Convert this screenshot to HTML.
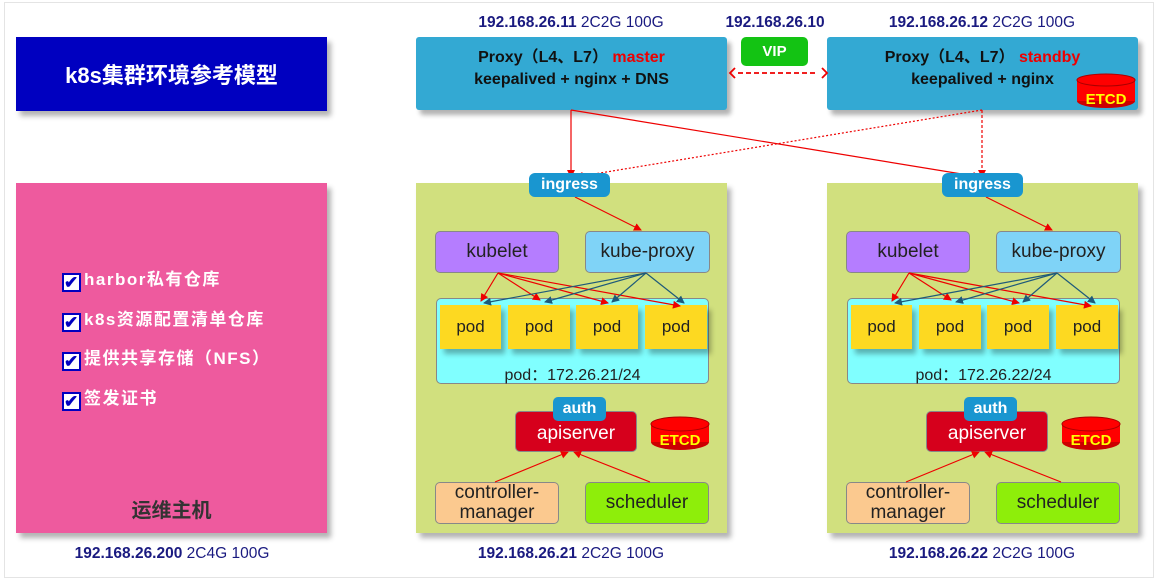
<!DOCTYPE html>
<html><head><meta charset="utf-8"><style>
body{margin:0;width:1158px;height:583px;background:#fff;position:relative;overflow:hidden;font-family:"Liberation Sans","Noto Sans CJK SC",sans-serif}
.a{position:absolute;box-sizing:border-box}
.frame{left:4px;top:2px;width:1150px;height:576px;border:1px solid #e4e4e4}
.sh{box-shadow:4px 5px 5px rgba(0,0,0,.3)}
.c{display:flex;align-items:center;justify-content:center;text-align:center}
.ip{font-size:15.5px;color:#1a1a80;text-align:center;width:320px}
.ip b{font-weight:bold}
.rb{border-radius:5px;border:1px solid #888}
.t{font-size:19px;color:#222}
.cb{display:inline-block;width:19px;height:19px;background:#fff;border:2px solid #0000c0;box-sizing:border-box;vertical-align:-3px;margin-right:3px;color:#0000c0;font-size:17px;line-height:15px;text-align:center;font-weight:bold}
.chk{position:absolute;left:62px;color:#fff;font-weight:bold;font-size:17px;letter-spacing:1.5px}
</style></head><body>
<div class="a frame"></div>
<div class="a c sh" style="left:16px;top:37px;width:311px;height:74px;background:#0000c0;color:#fff;font-weight:bold;font-size:22px">k8s集群环境参考模型</div>
<div class="a sh" style="left:16px;top:183px;width:311px;height:350px;background:#ee5a9e"></div>
<div class="chk" style="top:265px"><span class="cb">✔</span>harbor私有仓库</div>
<div class="chk" style="top:305px"><span class="cb">✔</span>k8s资源配置清单仓库</div>
<div class="chk" style="top:344px"><span class="cb">✔</span>提供共享存储（NFS）</div>
<div class="chk" style="top:384px"><span class="cb">✔</span>签发证书</div>
<div class="a" style="left:16px;top:494px;width:311px;text-align:center;font-weight:bold;font-size:20px;color:#333">运维主机</div>
<div class="a ip" style="left:12px;top:545px"><b>192.168.26.200</b> 2C4G 100G</div>

<div class="a ip" style="left:411px;top:14px"><b>192.168.26.11</b> 2C2G 100G</div>
<div class="a ip" style="left:615px;top:14px"><b>192.168.26.10</b></div>
<div class="a ip" style="left:822px;top:14px"><b>192.168.26.12</b> 2C2G 100G</div>
<div class="a c sh" style="left:416px;top:37px;width:311px;height:73px;background:#33a9d3;font-weight:bold;font-size:16px;line-height:22px;color:#111;flex-direction:column;padding-bottom:10px;border-radius:3px"><div>Proxy（L4、L7） <span style="color:#e00">master</span></div><div>keepalived + nginx + DNS</div></div>
<div class="a c sh" style="left:827px;top:37px;width:311px;height:73px;background:#33a9d3;font-weight:bold;font-size:16px;line-height:22px;color:#111;flex-direction:column;padding-bottom:10px;border-radius:3px"><div>Proxy（L4、L7） <span style="color:#e00">standby</span></div><div>keepalived + nginx</div></div>
<div class="a c" style="left:741px;top:37px;width:67px;height:29px;background:#13c313;color:#fff;font-weight:bold;font-size:15px;border-radius:5px">VIP</div>
<svg class="a" style="left:1075px;top:72px" width="62" height="38"><ellipse cx="31" cy="29" rx="29" ry="7" fill="#c00"/><rect x="2" y="8" width="58" height="21" fill="#f00"/><ellipse cx="31" cy="8" rx="29" ry="6" fill="#f00" stroke="#a00"/><text x="31" y="32" text-anchor="middle" font-family="Liberation Sans" font-weight="bold" font-size="15" fill="#ff0">ETCD</text></svg>

<div class="a" style="left:416px;top:183px;width:311px;height:350px">
<div class="a sh" style="left:0;top:0;width:311px;height:350px;background:#d1e07e"></div>
<div class="a c rb t" style="left:19px;top:48px;width:124px;height:42px;background:#b57dff">kubelet</div>
<div class="a c rb t" style="left:169px;top:48px;width:125px;height:42px;background:#7fd3f7">kube-proxy</div>
<div class="a rb" style="left:20px;top:115px;width:273px;height:86px;background:#80ffff"></div>
<div class="a c t sh" style="left:24px;top:122px;width:61px;height:44px;background:#fdd921;font-size:17px">pod</div>
<div class="a c t sh" style="left:92px;top:122px;width:62px;height:44px;background:#fdd921;font-size:17px">pod</div>
<div class="a c t sh" style="left:160px;top:122px;width:62px;height:44px;background:#fdd921;font-size:17px">pod</div>
<div class="a c t sh" style="left:229px;top:122px;width:62px;height:44px;background:#fdd921;font-size:17px">pod</div>
<div class="a" style="left:20px;top:178px;width:273px;text-align:center;font-size:16px;color:#222">pod：172.26.21/24</div>
<div class="a c rb" style="left:99px;top:228px;width:122px;height:41px;background:#d6001c;color:#fff;font-size:19px;padding-top:4px">apiserver</div>
<div class="a c" style="left:137px;top:214px;width:53px;height:24px;background:#1996d0;color:#fff;font-weight:bold;font-size:16px;border-radius:5px">auth</div>
<svg class="a" style="left:234px;top:232px" width="62" height="38"><ellipse cx="30" cy="27" rx="29" ry="8" fill="#c00"/><rect x="1" y="9" width="58" height="18" fill="#f00"/><ellipse cx="30" cy="9" rx="29" ry="7" fill="#f00" stroke="#a00"/><text x="30" y="30" text-anchor="middle" font-family="Liberation Sans" font-weight="bold" font-size="15" fill="#ff0">ETCD</text></svg>
<div class="a c rb t" style="left:19px;top:299px;width:124px;height:42px;background:#fbc98f;line-height:20px">controller-<br>manager</div>
<div class="a c rb t" style="left:169px;top:299px;width:124px;height:42px;background:#8eee0a">scheduler</div>
</div>
<div class="a" style="left:827px;top:183px;width:311px;height:350px">
<div class="a sh" style="left:0;top:0;width:311px;height:350px;background:#d1e07e"></div>
<div class="a c rb t" style="left:19px;top:48px;width:124px;height:42px;background:#b57dff">kubelet</div>
<div class="a c rb t" style="left:169px;top:48px;width:125px;height:42px;background:#7fd3f7">kube-proxy</div>
<div class="a rb" style="left:20px;top:115px;width:273px;height:86px;background:#80ffff"></div>
<div class="a c t sh" style="left:24px;top:122px;width:61px;height:44px;background:#fdd921;font-size:17px">pod</div>
<div class="a c t sh" style="left:92px;top:122px;width:62px;height:44px;background:#fdd921;font-size:17px">pod</div>
<div class="a c t sh" style="left:160px;top:122px;width:62px;height:44px;background:#fdd921;font-size:17px">pod</div>
<div class="a c t sh" style="left:229px;top:122px;width:62px;height:44px;background:#fdd921;font-size:17px">pod</div>
<div class="a" style="left:20px;top:178px;width:273px;text-align:center;font-size:16px;color:#222">pod：172.26.22/24</div>
<div class="a c rb" style="left:99px;top:228px;width:122px;height:41px;background:#d6001c;color:#fff;font-size:19px;padding-top:4px">apiserver</div>
<div class="a c" style="left:137px;top:214px;width:53px;height:24px;background:#1996d0;color:#fff;font-weight:bold;font-size:16px;border-radius:5px">auth</div>
<svg class="a" style="left:234px;top:232px" width="62" height="38"><ellipse cx="30" cy="27" rx="29" ry="8" fill="#c00"/><rect x="1" y="9" width="58" height="18" fill="#f00"/><ellipse cx="30" cy="9" rx="29" ry="7" fill="#f00" stroke="#a00"/><text x="30" y="30" text-anchor="middle" font-family="Liberation Sans" font-weight="bold" font-size="15" fill="#ff0">ETCD</text></svg>
<div class="a c rb t" style="left:19px;top:299px;width:124px;height:42px;background:#fbc98f;line-height:20px">controller-<br>manager</div>
<div class="a c rb t" style="left:169px;top:299px;width:124px;height:42px;background:#8eee0a">scheduler</div>
</div>
<div class="a ip" style="left:411px;top:545px"><b>192.168.26.21</b> 2C2G 100G</div>
<div class="a ip" style="left:822px;top:545px"><b>192.168.26.22</b> 2C2G 100G</div>

<svg class="a" style="left:0;top:0" width="1158" height="583">
<defs>
<marker id="r" markerWidth="8" markerHeight="8" refX="7" refY="4" orient="auto" markerUnits="userSpaceOnUse"><path d="M0,0 L8,4 L0,8 Z" fill="#e00"/></marker>
<marker id="b" markerWidth="8" markerHeight="8" refX="7" refY="4" orient="auto" markerUnits="userSpaceOnUse"><path d="M0,0 L8,4 L0,8 Z" fill="#1e5a7a"/></marker>
</defs>
<g stroke="#e00" fill="none" stroke-width="1.2">
<line x1="571" y1="110" x2="571" y2="177" marker-end="url(#r)"/>
<line x1="571" y1="110" x2="980" y2="177" marker-end="url(#r)"/>
<line x1="982" y1="110" x2="982" y2="177" stroke-dasharray="3,2" marker-end="url(#r)"/>
<line x1="982" y1="110" x2="576" y2="177" stroke-dasharray="2,2" marker-end="url(#r)"/>
<line x1="738" y1="73" x2="818" y2="73" stroke-dasharray="5,3" stroke-width="1.8"/>
<path d="M735,68 L730,73 L735,78 M822,68 L827,73 L822,78" stroke-width="1.8"/>
</g>
<g id="cl">
<g stroke="#e00" fill="none" stroke-width="1.2">
<line x1="575" y1="197" x2="641" y2="230" marker-end="url(#r)"/>
<line x1="498" y1="273" x2="481" y2="301" marker-end="url(#r)"/>
<line x1="498" y1="273" x2="540" y2="300" marker-end="url(#r)"/>
<line x1="498" y1="273" x2="608" y2="303" marker-end="url(#r)"/>
<line x1="498" y1="273" x2="680" y2="306" marker-end="url(#r)"/>
<line x1="495" y1="482" x2="568" y2="452" marker-end="url(#r)"/>
<line x1="650" y1="482" x2="574" y2="452" marker-end="url(#r)"/>
</g>
<g stroke="#1e5a7a" fill="none" stroke-width="1.2">
<line x1="646" y1="273" x2="484" y2="303" marker-end="url(#b)"/>
<line x1="646" y1="273" x2="545" y2="302" marker-end="url(#b)"/>
<line x1="646" y1="273" x2="612" y2="302" marker-end="url(#b)"/>
<line x1="646" y1="273" x2="684" y2="303" marker-end="url(#b)"/>
</g>
</g>
<use href="#cl" x="411" y="0"/>
</svg>
<div class="a c" style="left:529px;top:173px;width:81px;height:24px;background:#1996d0;color:#fff;font-weight:bold;font-size:16px;border-radius:6px">ingress</div>
<div class="a c" style="left:942px;top:173px;width:81px;height:24px;background:#1996d0;color:#fff;font-weight:bold;font-size:16px;border-radius:6px">ingress</div>
</body></html>
